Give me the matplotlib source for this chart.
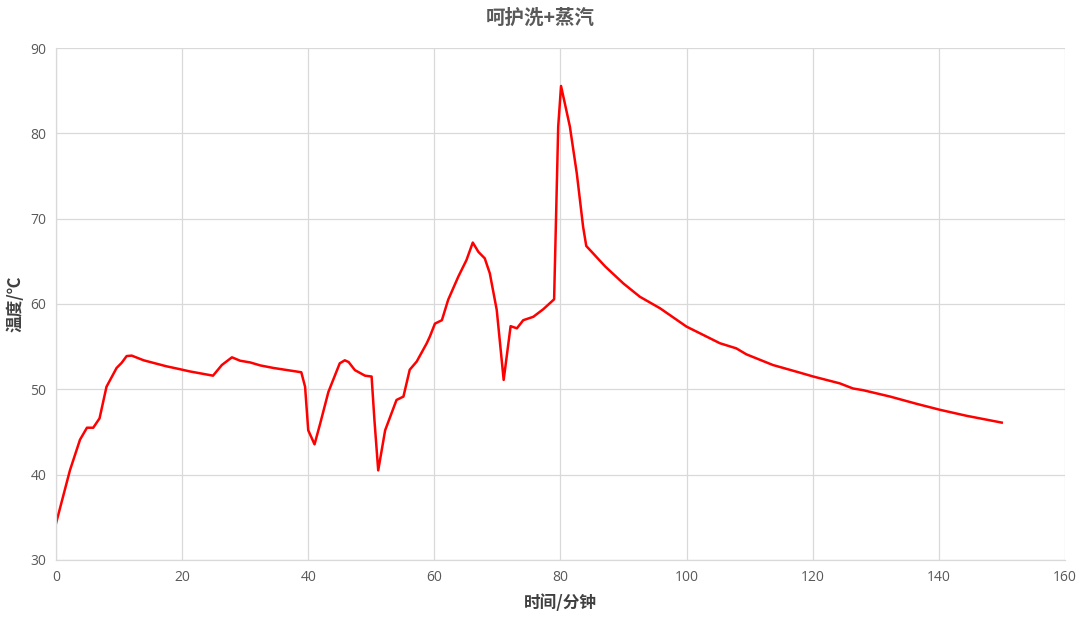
import matplotlib
matplotlib.use("Agg")
import matplotlib.pyplot as plt

plt.rcParams['font.family'] = ['Noto Sans CJK SC', 'DejaVu Sans']

# 时间(分钟) 与 温度(℃)
minutes = [0, 2.2, 3.8, 4.9, 5.9, 6.9, 8.0, 9.6, 10.4, 11.2, 12.0, 13.9, 17.5, 19.7,
           21.2, 24.9, 26.3, 27.9, 29.2, 30.8, 32.4, 34.5, 38.9, 39.5, 40.0, 41.0,
           41.9, 43.2, 45.0, 45.8, 46.4, 47.4, 49.0, 50.05, 50.5, 51.1, 52.2, 54.0,
           55.1, 56.1, 57.2, 58.8, 59.3, 60.1, 61.2, 62.2, 63.8, 65.1, 66.1, 67.0,
           68.0, 68.8, 69.9, 71.0, 72.1, 73.1, 74.1, 75.7, 77.3, 79.0, 79.65, 80.1,
           81.5, 82.6, 83.6, 84.1, 87.1, 90.0, 92.6, 95.8, 100.0, 105.3, 107.9,
           109.5, 113.7, 118.0, 120.1, 124.3, 126.4, 128.0, 132.3, 136.5, 140.2,
           144.4, 150.0]
temps = [34.3, 40.5, 44.1, 45.5, 45.5, 46.6, 50.3, 52.5, 53.1, 53.9, 53.95, 53.4,
         52.7, 52.35, 52.1, 51.6, 52.85, 53.75, 53.35, 53.15, 52.8, 52.5, 52.0,
         50.3, 45.2, 43.55, 46.0, 49.7, 53.05, 53.4, 53.2, 52.25, 51.6, 51.5, 46.4,
         40.5, 45.2, 48.75, 49.15, 52.3, 53.25, 55.4, 56.2, 57.7, 58.1, 60.5, 63.2,
         65.15, 67.2, 66.1, 65.35, 63.6, 59.3, 51.1, 57.4, 57.15, 58.1, 58.5, 59.4,
         60.55, 80.8, 85.55, 80.8, 75.3, 69.05, 66.8, 64.4, 62.4, 60.85, 59.5,
         57.35, 55.4, 54.8, 54.1, 52.85, 51.95, 51.5, 50.7, 50.1, 49.9, 49.15,
         48.3, 47.6, 46.9, 46.1]

fig = plt.figure(figsize=(10.8, 6.18), dpi=100)
ax = fig.add_axes([0.0519, 0.0939, 0.934, 0.8284])

ax.plot(minutes, temps, color='#ff0000', linewidth=1.8, solid_joinstyle='round')

ax.set_xlim(0, 160)
ax.set_ylim(30, 90)
ax.set_xticks(range(0, 161, 20))
ax.set_yticks(range(30, 91, 10))
ax.grid(True, color='#d9d9d9', linewidth=0.9)
ax.set_axisbelow(True)
for s in ['top', 'right']:
    ax.spines[s].set_visible(False)
for s in ['left', 'bottom']:
    ax.spines[s].set_color('#d9d9d9')
    ax.spines[s].set_linewidth(0.9)
ax.tick_params(length=0, labelsize=10, colors='#595959', pad=7)
for lbl in ax.get_xticklabels() + ax.get_yticklabels():
    lbl.set_family(['Open Sans', 'DejaVu Sans'])

fig.text(0.5, 0.971, '呵护洗+蒸汽', fontsize=14, fontweight='bold', color='#595959',
         ha='center', va='center')
ax.set_xlabel('时间/分钟', fontsize=12, fontweight='bold', color='#404040', labelpad=7)
ax.set_ylabel('温度/℃', fontsize=12, fontweight='bold', color='#404040', labelpad=4)

fig.savefig('out.png', dpi=100)
